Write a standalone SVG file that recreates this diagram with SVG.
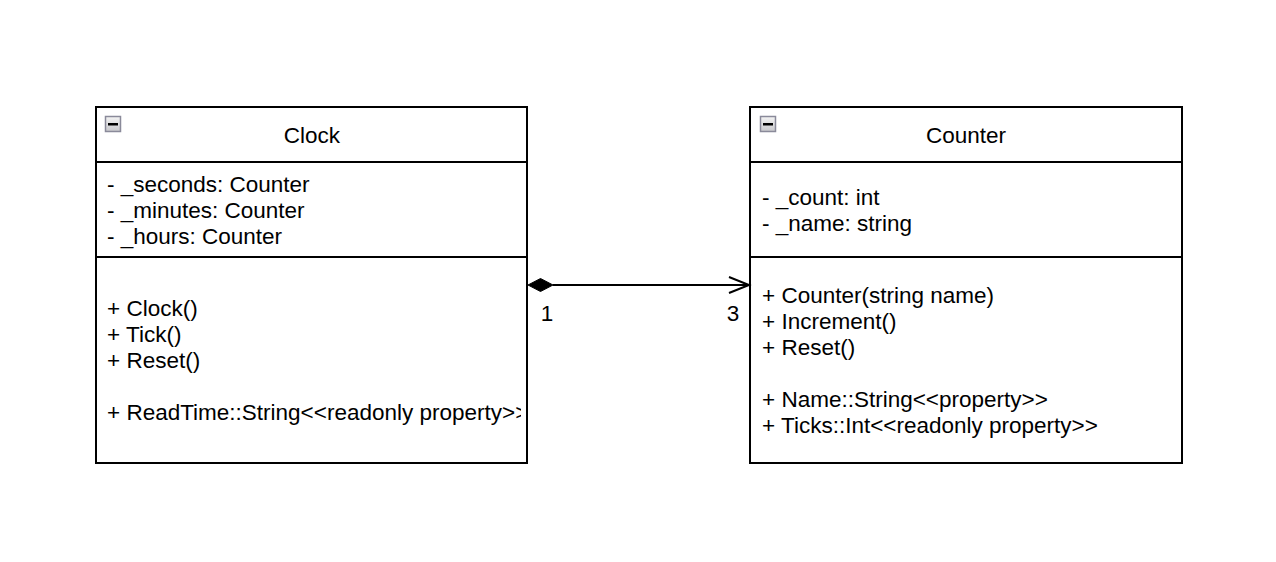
<svg xmlns="http://www.w3.org/2000/svg" width="1276" height="562" viewBox="0 0 1276 562">
<style>
.box{fill:#fff;stroke:#000;stroke-width:2}
.div{stroke:#000;stroke-width:2}
.t{font-family:"Liberation Sans",Arial,sans-serif;font-size:22.5px;fill:#000}
.c{text-anchor:middle}
.ic{fill:url(#g);stroke:#8a8a9a;stroke-width:1.5}
</style>
<defs>
<linearGradient id="g" x1="0" y1="0" x2="0" y2="1"><stop offset="0" stop-color="#f4f4f4"/><stop offset="1" stop-color="#c8c8cc"/></linearGradient>
<clipPath id="clk"><rect x="96" y="107" width="425" height="356"/></clipPath>
</defs>
<rect width="1276" height="562" fill="#fff"/>
<g id="clock">
<rect class="box" x="96" y="107" width="431" height="356"/>
<line class="div" x1="96" y1="162" x2="527" y2="162"/>
<line class="div" x1="96" y1="257" x2="527" y2="257"/>
<rect class="ic" x="105.5" y="116.5" width="15" height="15"/>
<rect x="108" y="123" width="10" height="2.5" fill="#000"/>
<text class="t c" x="312" y="143">Clock</text>
<g clip-path="url(#clk)">
<text class="t" x="107" y="192">- _seconds: Counter</text>
<text class="t" x="107" y="218">- _minutes: Counter</text>
<text class="t" x="107" y="244">- _hours: Counter</text>
<text class="t" x="107" y="316">+ Clock()</text>
<text class="t" x="107" y="342">+ Tick()</text>
<text class="t" x="107" y="368">+ Reset()</text>
<text class="t" x="107" y="420">+ ReadTime::String&lt;&lt;readonly property&gt;&gt;</text>
</g>
</g>
<g id="counter">
<rect class="box" x="750" y="107" width="432" height="356"/>
<line class="div" x1="750" y1="162" x2="1182" y2="162"/>
<line class="div" x1="750" y1="257" x2="1182" y2="257"/>
<rect class="ic" x="760.5" y="116.5" width="15" height="15"/>
<rect x="763" y="123" width="10" height="2.5" fill="#000"/>
<text class="t c" x="966" y="143">Counter</text>
<text class="t" x="762" y="205">- _count: int</text>
<text class="t" x="762" y="231">- _name: string</text>
<text class="t" x="762" y="303">+ Counter(string name)</text>
<text class="t" x="762" y="329">+ Increment()</text>
<text class="t" x="762" y="355">+ Reset()</text>
<text class="t" x="762" y="407">+ Name::String&lt;&lt;property&gt;&gt;</text>
<text class="t" x="762" y="433">+ Ticks::Int&lt;&lt;readonly property&gt;&gt;</text>
</g>
<g id="connectors">
<line x1="553" y1="285" x2="749" y2="285" stroke="#000" stroke-width="2"/>
<polygon points="528,285 540.5,278.5 553,285 540.5,291.5" fill="#000" stroke="#000" stroke-width="1"/>
<polyline points="729,277 749,285 729,293" fill="none" stroke="#000" stroke-width="2"/>
<text class="t c" x="547" y="321">1</text>
<text class="t c" x="733" y="321">3</text>
</g>
</svg>
